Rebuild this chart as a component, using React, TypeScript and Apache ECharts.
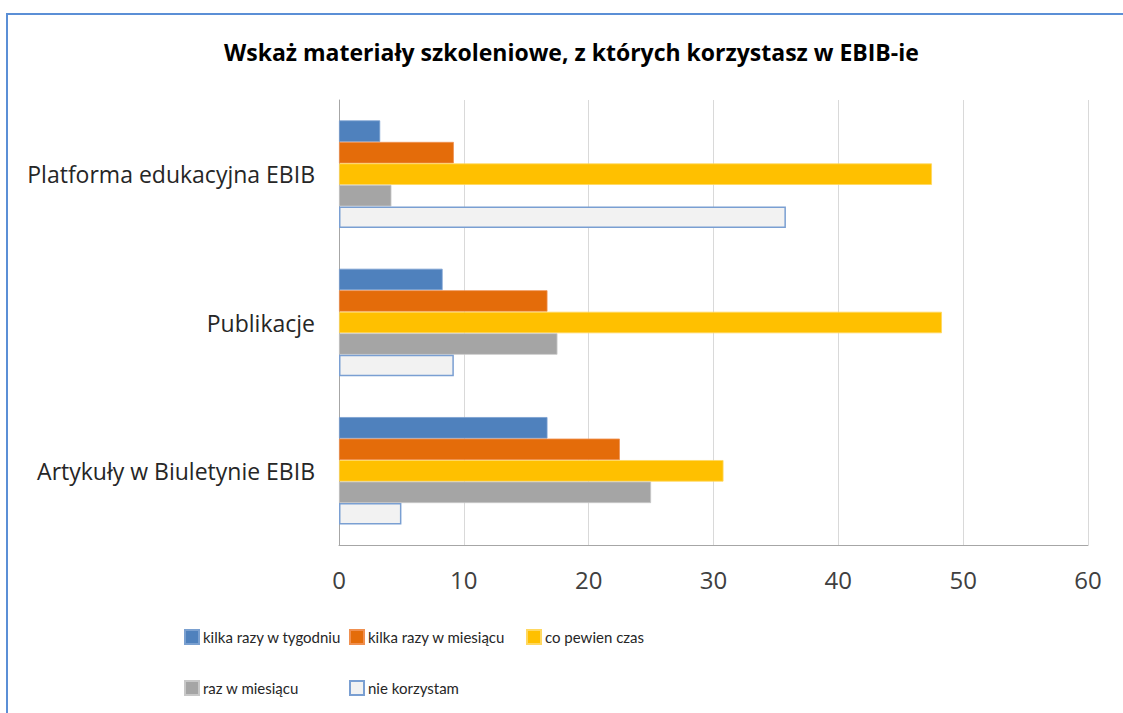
import React, { useEffect, useRef } from "react";
import * as echarts from "echarts";

const categories = ["Platforma edukacyjna EBIB", "Publikacje", "Artykuły w Biuletynie EBIB"];
const seriesNames = ["kilka razy w tygodniu", "kilka razy w miesiącu", "co pewien czas", "raz w miesiącu", "nie korzystam"];
const kilkaTydz = [3.3, 8.3, 16.7];
const kilkaMies = [9.2, 16.7, 22.5];
const coPewien = [47.5, 48.3, 30.8];
const razMies = [4.2, 17.5, 25.0];
const nieKorz = [35.8, 9.2, 5.0];
const xTicks = [0, 10, 20, 30, 40, 50, 60];

const FONT = "'Open Sans'";
const LEGEND_FONT = "Lato";

export default function App() {
  const ref = useRef<HTMLDivElement>(null);
  useEffect(() => {
    const chart = echarts.init(ref.current!, null, { renderer: "svg" });
    const values = [kilkaTydz, kilkaMies, coPewien, razMies, nieKorz];
    const colors = ["#4f81bd", "#e46c0a", "#ffc000", "#a5a5a5", "#f2f2f2"];
    const borders = ["#7aa0d0", "#f09050", "#ffd860", "#c8c8c8", "#7a9fd2"];
    const legendPos = [
      [179, 624],
      [344, 624],
      [521, 624],
      [179, 675],
      [344, 675],
    ];
    chart.setOption({
      animation: false,
      backgroundColor: "#ffffff",
      textStyle: { fontFamily: FONT },
      title: {
        text: "Wskaż materiały szkoleniowe, z których korzystasz w EBIB-ie",
        left: 219,
        top: 35,
        textStyle: { fontFamily: FONT, fontSize: 23, fontWeight: "bold", color: "#000000" },
      },
      graphic: [
        {
          type: "rect",
          shape: { x: 7, y: 14, width: 1300, height: 900 },
          style: { fill: "none", stroke: "#5b8fd6", lineWidth: 2 },
          silent: true,
        },
      ],
      legend: seriesNames.map((n, i) => ({
        data: [n],
        left: legendPos[i][0],
        top: legendPos[i][1],
        itemWidth: 14,
        itemHeight: 14,
        itemGap: 4,
        icon: "rect",
        textStyle: { fontFamily: LEGEND_FONT, fontSize: 15, color: "#262626", padding: [0, 0, 0, -1] },
        selectedMode: false,
      })),
      grid: { left: 339, right: 35, top: 100, bottom: 168, containLabel: false },
      xAxis: {
        type: "value",
        min: 0,
        max: 60,
        interval: 10,
        axisLine: { show: true, lineStyle: { color: "#a6a6a6", width: 1 } },
        axisTick: { show: false },
        splitLine: { show: true, lineStyle: { color: "#d9d9d9", width: 1 } },
        axisLabel: {
          margin: 22,
          fontFamily: FONT,
          fontSize: 24,
          color: "#404040",
          formatter: (v: number) => (xTicks.includes(v) ? String(v) : ""),
        },
      },
      yAxis: {
        type: "category",
        data: categories,
        inverse: true,
        axisLine: { show: true, lineStyle: { color: "#a6a6a6", width: 1 } },
        axisTick: { show: false },
        axisLabel: { margin: 24, fontFamily: FONT, fontSize: 23, color: "#262626" },
      },
      series: seriesNames.map((n, i) => ({
        name: n,
        type: "bar",
        data: values[i],
        barGap: "0%",
        barCategoryGap: "27.5%",
        itemStyle: {
          color: colors[i],
          borderColor: borders[i],
          borderWidth: i === 4 ? 1.5 : 0.8,
        },
      })),
    });
    return () => chart.dispose();
  }, []);
  return (
    <div
      ref={ref}
      style={{ position: "fixed", left: 0, top: 0, width: 1123, height: 713 }}
    />
  );
}
